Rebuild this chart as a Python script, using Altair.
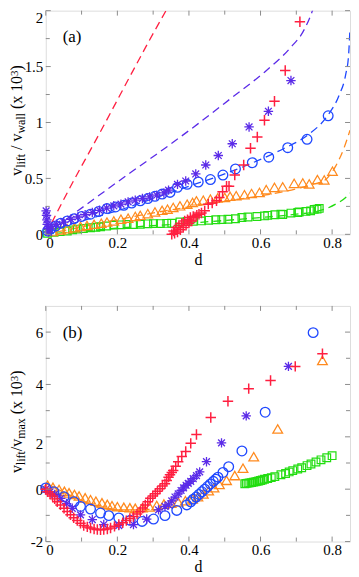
import altair as alt
import pandas as pd

# ---------------- Panel (a): v_lift / v_wall (x 10^3) vs d ----------------
a_red_d = [0.352, 0.357, 0.36, 0.364, 0.368, 0.372, 0.376, 0.38, 0.384, 0.388, 0.392, 0.396, 0.40,
           0.404, 0.408, 0.412, 0.417, 0.422, 0.428, 0.435, 0.444, 0.454, 0.465, 0.477, 0.485, 0.494,
           0.505, 0.512, 0.528, 0.553, 0.572, 0.591, 0.611, 0.639, 0.669, 0.710]
a_red_v = [0.0, 0.03, 0.01, 0.06, 0.02, 0.08, 0.04, 0.10, 0.06, 0.12, 0.08, 0.13, 0.10,
           0.15, 0.12, 0.16, 0.155, 0.17, 0.18, 0.19, 0.21, 0.27, 0.28, 0.30, 0.33, 0.38,
           0.43, 0.43, 0.53, 0.62, 0.77, 0.87, 1.02, 1.19, 1.465, 1.90]

a_star_d = [0.001, 0.002, 0.003, 0.004, 0.006, 0.008, 0.015, 0.03, 0.05, 0.07, 0.09, 0.11, 0.13, 0.15,
            0.17, 0.19, 0.21, 0.23, 0.25, 0.27, 0.29, 0.31, 0.33, 0.343, 0.368, 0.391, 0.419,
            0.447, 0.482, 0.521, 0.568, 0.622, 0.685]
a_star_v = [0.21, 0.17, 0.13, 0.09, 0.05, 0.02, 0.07, 0.09, 0.11, 0.135, 0.155, 0.175, 0.195, 0.215,
            0.235, 0.255, 0.27, 0.29, 0.305, 0.32, 0.335, 0.35, 0.37, 0.395, 0.447, 0.477, 0.54,
            0.62, 0.705, 0.81, 0.96, 1.10, 1.375]

a_circ_d = [0.005, 0.014, 0.028, 0.042, 0.06, 0.079, 0.10, 0.125, 0.148, 0.171, 0.195, 0.218, 0.24,
            0.264, 0.285, 0.305, 0.325, 0.347, 0.368, 0.395, 0.426, 0.46, 0.495, 0.53, 0.577,
            0.623, 0.676, 0.73, 0.789]
a_circ_v = [0.03, 0.05, 0.075, 0.10, 0.12, 0.14, 0.16, 0.18, 0.205, 0.23, 0.245, 0.26, 0.28,
            0.30, 0.32, 0.34, 0.36, 0.375, 0.42, 0.447, 0.468, 0.49, 0.53, 0.585, 0.64,
            0.69, 0.775, 0.85, 1.06]

a_tri_d = [0.02, 0.042, 0.06, 0.08, 0.097, 0.115, 0.135, 0.155, 0.171, 0.19, 0.21, 0.23, 0.25, 0.264,
           0.285, 0.305, 0.325, 0.34, 0.356, 0.375, 0.395, 0.41, 0.421, 0.44, 0.46, 0.48, 0.50,
           0.515, 0.532, 0.555, 0.575, 0.597, 0.616, 0.639, 0.662, 0.694, 0.718, 0.736, 0.759,
           0.778, 0.801]
a_tri_v = [0.025, 0.04, 0.05, 0.06, 0.07, 0.08, 0.09, 0.10, 0.11, 0.12, 0.135, 0.145, 0.16, 0.17,
           0.185, 0.20, 0.215, 0.225, 0.24, 0.255, 0.27, 0.285, 0.30, 0.305, 0.315, 0.325, 0.33,
           0.34, 0.346, 0.355, 0.365, 0.375, 0.40, 0.42, 0.425, 0.456, 0.46, 0.45, 0.49,
           0.486, 0.565]

a_sq_d = [0.005, 0.023, 0.04, 0.06, 0.075, 0.088, 0.105, 0.125, 0.14, 0.153, 0.17, 0.19, 0.21, 0.227,
          0.245, 0.264, 0.285, 0.301, 0.32, 0.338, 0.352, 0.375, 0.395, 0.412, 0.435, 0.455, 0.475,
          0.492, 0.509, 0.53, 0.548, 0.565, 0.59, 0.611, 0.62, 0.64, 0.657, 0.662, 0.685, 0.704,
          0.708, 0.727, 0.74, 0.75, 0.758, 0.764]
a_sq_v = [0.01, 0.018, 0.024, 0.03, 0.04, 0.047, 0.052, 0.059, 0.064, 0.068, 0.075, 0.082, 0.085, 0.088,
          0.088, 0.09, 0.094, 0.096, 0.096, 0.098, 0.10, 0.11, 0.115, 0.117, 0.12, 0.125, 0.13,
          0.132, 0.135, 0.14, 0.15, 0.155, 0.16, 0.165, 0.17, 0.175, 0.18, 0.178, 0.19, 0.195,
          0.20, 0.205, 0.21, 0.223, 0.225, 0.232]

# dashed fit curves of panel (a)
a_red_line_d = [0.0, 0.088, 0.125, 0.336, 0.345]
a_red_line_v = [0.0, 0.54, 0.755, 2.0, 2.05]
a_pur_line_d = [0.0, 0.236, 0.333, 0.426, 0.519, 0.611, 0.681, 0.722, 0.745, 0.75]
a_pur_line_v = [0.0, 0.55, 0.77, 0.99, 1.22, 1.45, 1.66, 1.83, 2.0, 2.05]
a_blue_line_d = [0.0, 0.1, 0.2, 0.3, 0.4, 0.5, 0.6, 0.667, 0.731, 0.787, 0.819, 0.838, 0.846, 0.85]
a_blue_line_v = [0.02, 0.12, 0.21, 0.32, 0.43, 0.54, 0.67, 0.77, 0.886, 1.06, 1.24, 1.43, 1.6, 1.85]
a_orng_line_d = [0.0, 0.2, 0.333, 0.45, 0.55, 0.611, 0.704, 0.75, 0.782, 0.81, 0.833, 0.85]
a_orng_line_v = [0.0, 0.13, 0.21, 0.27, 0.32, 0.35, 0.41, 0.45, 0.49, 0.61, 0.77, 0.93]
a_grn_line_d = [0.0, 0.2, 0.4, 0.6, 0.7, 0.75, 0.782, 0.81, 0.838, 0.85]
a_grn_line_v = [0.0, 0.055, 0.10, 0.15, 0.18, 0.20, 0.228, 0.27, 0.33, 0.37]

# ---------------- Panel (b): v_lift / v_max (x 10^3) vs d ----------------
b_red_d = [0.0, 0.005, 0.012, 0.019, 0.025, 0.032, 0.041, 0.051, 0.06, 0.069, 0.078, 0.088, 0.097,
           0.106, 0.116, 0.125, 0.135, 0.144, 0.153, 0.162, 0.172, 0.181, 0.192, 0.204, 0.215,
           0.225, 0.235, 0.245, 0.255, 0.264, 0.271, 0.278, 0.285, 0.292, 0.299, 0.306, 0.312,
           0.319, 0.326, 0.333, 0.338, 0.343, 0.347, 0.352, 0.356, 0.363, 0.37, 0.38, 0.391,
           0.405, 0.421, 0.461, 0.509, 0.567, 0.628, 0.697, 0.773]
b_red_v = [0.0, -0.1, -0.18, -0.26, -0.37, -0.48, -0.6, -0.73, -0.85, -0.98, -1.09, -1.2, -1.3,
           -1.39, -1.44, -1.48, -1.52, -1.54, -1.55, -1.54, -1.52, -1.48, -1.42, -1.35, -1.28,
           -1.2, -1.12, -1.04, -0.95, -0.85, -0.72, -0.6, -0.48, -0.35, -0.26, -0.17, -0.08,
           0.02, 0.12, 0.21, 0.33, 0.46, 0.55, 0.64, 0.71, 0.88, 1.05, 1.25, 1.44,
           1.75, 2.09, 2.74, 3.36, 3.84, 4.15, 4.69, 5.17]

b_star_d = [0.0, 0.012, 0.025, 0.042, 0.058, 0.074, 0.097, 0.13, 0.162, 0.204, 0.245, 0.282, 0.315,
            0.333, 0.343, 0.352, 0.361, 0.37, 0.378, 0.385, 0.392, 0.398, 0.405, 0.412, 0.421,
            0.43, 0.449, 0.491, 0.56, 0.678]
b_star_v = [0.0, -0.1, -0.2, -0.35, -0.55, -0.73, -0.98, -1.16, -1.35, -1.39, -1.35, -1.14, -0.79,
            -0.66, -0.6, -0.45, -0.3, -0.18, -0.05, 0.05, 0.15, 0.22, 0.30, 0.40, 0.52,
            0.66, 1.05, 1.77, 2.80, 4.69]

b_circ_d = [0.0, 0.023, 0.051, 0.079, 0.097, 0.125, 0.153, 0.176, 0.204, 0.236, 0.269, 0.301, 0.333,
            0.366, 0.394, 0.405, 0.412, 0.42, 0.428, 0.436, 0.444, 0.452, 0.46, 0.468, 0.475,
            0.481, 0.495, 0.511, 0.548, 0.613, 0.747]
b_circ_v = [0.05, -0.1, -0.29, -0.48, -0.66, -0.76, -0.91, -1.01, -1.10, -1.19, -1.23, -1.14, -1.01,
            -0.81, -0.6, -0.48, -0.38, -0.3, -0.2, -0.1, 0.0, 0.1, 0.2, 0.3, 0.38,
            0.46, 0.64, 0.86, 1.46, 2.94, 5.98]

b_tri_d = [0.005, 0.02, 0.037, 0.052, 0.065, 0.08, 0.093, 0.11, 0.125, 0.14, 0.157, 0.172, 0.185,
           0.2, 0.218, 0.235, 0.25, 0.27, 0.29, 0.31, 0.33, 0.35, 0.37, 0.39, 0.41, 0.425, 0.44,
           0.455, 0.47, 0.485, 0.505, 0.528, 0.551, 0.581, 0.648, 0.773]
b_tri_v = [0.15, 0.07, -0.01, -0.08, -0.14, -0.2, -0.26, -0.33, -0.4, -0.46, -0.52, -0.58, -0.63,
           -0.67, -0.69, -0.71, -0.73, -0.71, -0.68, -0.62, -0.57, -0.53, -0.49, -0.44, -0.37, -0.29, -0.18,
           -0.06, 0.06, 0.18, 0.34, 0.52, 0.80, 1.24, 2.30, 4.92]

b_sq_d = [0.556, 0.56, 0.565, 0.57, 0.575, 0.58, 0.585, 0.59, 0.595, 0.60, 0.605, 0.611, 0.62, 0.63,
          0.64, 0.657, 0.67, 0.68, 0.69, 0.704, 0.715, 0.73, 0.741, 0.755, 0.769, 0.785, 0.80]
b_sq_v = [0.21, 0.22, 0.23, 0.24, 0.25, 0.27, 0.28, 0.30, 0.31, 0.33, 0.35, 0.38, 0.41, 0.44,
          0.48, 0.55, 0.60, 0.66, 0.71, 0.77, 0.82, 0.90, 0.96, 1.04, 1.12, 1.20, 1.28]

b_orng_line_d = [0.0, 0.042, 0.097, 0.139, 0.171, 0.2, 0.255, 0.29]
b_orng_line_v = [0.21, -0.06, -0.41, -0.65, -0.76, -0.79, -0.79, -0.77]

# axis ticks / labels
x_major = [0, 0.2, 0.4, 0.6, 0.8]
x_minor = [0.1, 0.3, 0.5, 0.7]
a_y_major = [0, 0.5, 1, 1.5, 2]
a_y_minor = [0.25, 0.75, 1.25, 1.75]
b_y_major = [-2, 0, 2, 4, 6]
b_y_minor = [-1, 1, 3, 5]

# ---------------- styling ----------------
W = 306
HA = 225
HB = 237
FONT = "Liberation Serif, Times New Roman, DejaVu Serif, serif"
RED = "#ff1f40"
PURPLE = "#5b2be8"
BLUE = "#1f48ff"
ORANGE = "#ff8a1e"
GREEN = "#22dd10"
FRAME = "#8c8c8c"
PLUS = "M-1,0L1,0M0,-1L0,1"
STAR = "M-1,0L1,0M0,-1L0,1M-0.72,-0.72L0.72,0.72M-0.72,0.72L0.72,-0.72"

GLYPH_W = {"v": .5, "l": .278, "i": .278, "f": .333, "t": .278, " ": .25, "/": .278, "w": .722,
           "a": .444, "m": .778, "x": .5, "(": .333, ")": .333, "1": .5, "0": .5, "3": .5}

one = pd.DataFrame({"k": [0]})


def tw(text, size):
    return sum(GLYPH_W.get(c, .5) for c in text) * size


def title_layers(parts, cy, bx):
    total = sum(tw(t, s) for t, s, _ in parts)
    y = cy + total / 2
    out = []
    for t, s, sh in parts:
        if t.strip():
            out.append(alt.Chart(one).mark_text(angle=270, align="left", baseline="alphabetic",
                                                font=FONT, fontSize=s, color="black")
                       .encode(x=alt.value(bx + sh), y=alt.value(y), text=alt.value(t)))
        y -= tw(t, s)
    return out


def make_panel(ydom, H, ymaj, ymin, series, lines, label, tparts):
    xs = alt.Scale(domain=[0, 0.85], nice=False, zero=False)
    ys = alt.Scale(domain=ydom, nice=False, zero=False)
    xaxis = alt.Axis(values=x_major, labelExpr="'' + datum.value", ticks=False, domain=False,
                     grid=False, labelFont=FONT, labelFontSize=15, labelColor="black",
                     labelPadding=1, title="d", titleFont=FONT, titleFontSize=16,
                     titleFontWeight="normal", titleColor="black", titlePadding=1)
    yaxis = alt.Axis(values=ymaj, labelExpr="'' + datum.value", ticks=False, domain=False,
                     grid=False, labelFont=FONT, labelFontSize=15, labelColor="black",
                     labelPadding=3, title=None,
                     labelBaseline={"condition": {"test": "datum.value == 2", "value": "top"},
                                    "value": "middle"})
    X = lambda f: alt.X(f, scale=xs, axis=xaxis)
    Y = lambda f: alt.Y(f, scale=ys, axis=yaxis)
    layers = []
    for d, v, col, dash in lines:
        layers.append(alt.Chart(pd.DataFrame({"d": d, "v": v}))
                      .mark_line(color=col, strokeDash=dash, strokeWidth=1.3, clip=True,
                                 interpolate="monotone")
                      .encode(x=X("d:Q"), y=Y("v:Q")))
    for d, v, col, shape, size, sw in series:
        layers.append(alt.Chart(pd.DataFrame({"d": d, "v": v}))
                      .mark_point(shape=shape, filled=False, color=col, size=size,
                                  strokeWidth=sw, opacity=1)
                      .encode(x=X("d:Q"), y=Y("v:Q")))
    # inward ticks on all four sides
    for vals, L in ((ymaj, 5), (ymin, 4)):
        t = pd.DataFrame({"t": vals})
        layers.append(alt.Chart(t).mark_rule(color=FRAME, strokeWidth=1)
                      .encode(y=Y("t:Q"), x=alt.value(0), x2=alt.value(L)))
        layers.append(alt.Chart(t).mark_rule(color=FRAME, strokeWidth=1)
                      .encode(y=Y("t:Q"), x=alt.value(W - L), x2=alt.value(W)))
    for vals, L in ((x_major, 5), (x_minor, 4)):
        t = pd.DataFrame({"t": vals})
        layers.append(alt.Chart(t).mark_rule(color=FRAME, strokeWidth=1)
                      .encode(x=X("t:Q"), y=alt.value(0), y2=alt.value(L)))
        layers.append(alt.Chart(t).mark_rule(color=FRAME, strokeWidth=1)
                      .encode(x=X("t:Q"), y=alt.value(H - L), y2=alt.value(H)))
    layers.append(alt.Chart(one).mark_text(align="left", baseline="middle", font=FONT,
                                           fontSize=17, color="black")
                  .encode(x=alt.value(17), y=alt.value(27), text=alt.value(label)))
    layers += title_layers(tparts, H / 2 - 2, -24)
    return alt.layer(*layers).properties(width=W, height=H)


panel_a = make_panel(
    [0, 2], HA, a_y_major, a_y_minor,
    [
        (a_sq_d, a_sq_v, GREEN, "square", 60, 1.2),
        (a_tri_d, a_tri_v, ORANGE, "triangle-up", 95, 1.2),
        (a_circ_d, a_circ_v, BLUE, "circle", 95, 1.3),
        (a_star_d, a_star_v, PURPLE, STAR, 90, 1.3),
        (a_red_d, a_red_v, RED, PLUS, 110, 1.5),
    ],
    [
        (a_red_line_d, a_red_line_v, RED, [8, 5]),
        (a_pur_line_d, a_pur_line_v, PURPLE, [8, 5]),
        (a_blue_line_d, a_blue_line_v, BLUE, [8, 5]),
        (a_orng_line_d, a_orng_line_v, ORANGE, [8, 5]),
        (a_grn_line_d, a_grn_line_v, GREEN, [8, 5]),
    ],
    "(a)",
    [("v", 16, 0), ("lift", 12, 3), (" ", 16, 0), ("/", 16, 0), (" ", 16, 0), ("v", 16, 0),
     ("wall", 12, 3), (" ", 16, 0), ("(x", 16, 0), (" ", 16, 0), ("10", 16, 0), ("3", 11, -4),
     (")", 16, 0)],
)

panel_b = make_panel(
    [-2, 7], HB, b_y_major, b_y_minor,
    [
        (b_sq_d, b_sq_v, GREEN, "square", 60, 1.2),
        (b_tri_d, b_tri_v, ORANGE, "triangle-up", 95, 1.3),
        (b_circ_d, b_circ_v, BLUE, "circle", 95, 1.3),
        (b_star_d, b_star_v, PURPLE, STAR, 90, 1.3),
        (b_red_d, b_red_v, RED, PLUS, 110, 1.5),
    ],
    [
        (b_orng_line_d, b_orng_line_v, ORANGE, [1, 0]),
    ],
    "(b)",
    [("v", 16, 0), ("lift", 12, 3), ("/", 16, 0), ("v", 16, 0), ("max", 12, 3), (" ", 16, 0),
     ("(x", 16, 0), (" ", 16, 0), ("10", 16, 0), ("3", 11, -4), (")", 16, 0)],
)

chart = (alt.vconcat(panel_a, panel_b, spacing=37)
         .properties(padding={"left": 0, "top": 0, "right": 0, "bottom": 0})
         .configure_view(stroke=FRAME, strokeWidth=1)
         .configure(background="white"))

chart.save("out.html", embed_options={"renderer": "svg", "actions": False})
